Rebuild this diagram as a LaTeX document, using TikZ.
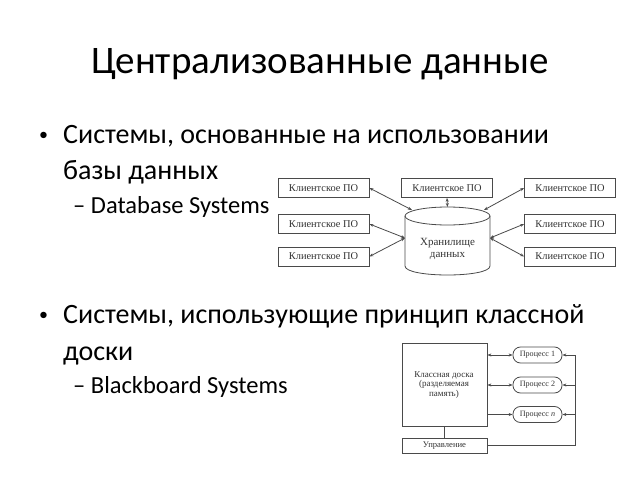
\documentclass[tikz,border=0pt]{standalone}
\usepackage{fontspec}
\setmainfont{Carlito}
\newfontfamily\diagfont{Liberation Serif}
\usetikzlibrary{arrows.meta}
\definecolor{dline}{HTML}{4A4A4A}
\definecolor{dtext}{HTML}{333333}
\begin{document}
\begin{tikzpicture}[x=1pt,y=-1pt,
  slidetext/.style={inner sep=0pt, anchor=base west, text=black},
  bodyfont/.style={font=\fontsize{28}{32}\selectfont},
  subfont/.style={font=\fontsize{24.5}{28}\selectfont},
  cbox/.style={draw=dline, line width=0.8pt, minimum width=91pt, minimum height=19pt, inner sep=0pt, font=\diagfont\fontsize{10.4}{11}\selectfont, text=dtext},
  proc/.style={draw=dline, line width=0.8pt, rounded corners=7.5pt, minimum width=49pt, minimum height=16pt, inner sep=0pt, font=\diagfont\fontsize{8.1}{9}\selectfont, text=dtext},
  conn/.style={draw=dline, line width=0.8pt},
  dbl/.style={conn, {Stealth[length=4pt,width=3pt]}-{Stealth[length=4pt,width=3pt]}},
  sgl/.style={conn, -{Stealth[length=4pt,width=3pt]}}
]
\useasboundingbox (0,0) rectangle (638,479);
\fill[white] (0,0) rectangle (638,479);
% title
\node[inner sep=0pt, anchor=base, font=\fontsize{39}{44}\selectfont] (title) at (320,73) {Централизованные данные};
% bullets
\node[slidetext, font=\fontsize{18}{20}\selectfont] (b1) at (39,140) {•};
\node[slidetext, bodyfont] (t1a) at (63,143) {Системы, основанные на использовании};
\node[slidetext, bodyfont] (t1b) at (63,179) {базы данных};
\node[slidetext, subfont] (s1) at (73,213) {– Database Systems};
\node[slidetext, font=\fontsize{18}{20}\selectfont] (b2) at (39,320) {•};
\node[slidetext, bodyfont] (t2a) at (63,323) {Системы, использующие принцип классной};
\node[slidetext, bodyfont] (t2b) at (63,360) {доски};
\node[slidetext, subfont] (s2) at (73,393) {– Blackboard Systems};

% database diagram
\node[cbox] (lt) at (323.5,188) {Клиентское ПО};
\node[cbox] (lm) at (323.5,224) {Клиентское ПО};
\node[cbox] (lb) at (323.5,256.5) {Клиентское ПО};
\node[cbox] (tm) at (447,188) {Клиентское ПО};
\node[cbox] (rt) at (570,188) {Клиентское ПО};
\node[cbox] (rm) at (570,224) {Клиентское ПО};
\node[cbox] (rb) at (570,256.5) {Клиентское ПО};
% cylinder
\draw[conn] (447.5,216) ellipse [x radius=42.5, y radius=9];
\draw[conn] (405,216) -- (405,266) .. controls (405,278) and (490,278) .. (490,266) -- (490,216);
\node[inner sep=0pt, align=center, font=\diagfont\fontsize{11}{12.5}\selectfont, text=dtext] (db) at (447.5,249) {Хранилище\\данных};
\coordinate (dbtl) at (412,210);
\coordinate (dbtr) at (484,210);
\coordinate (dbt) at (447.5,207);
\coordinate (dbl) at (405,238);
\coordinate (dbr) at (490,238);
\draw[dbl] (lt.east) -- (dbtl);
\draw[dbl] (lm.east) -- (dbl);
\draw[dbl] (lb.east) -- (dbl);
\draw[dbl] (tm.south) -- (dbt);
\draw[dbl] (rt.west) -- (dbtr);
\draw[dbl] (rm.west) -- (dbr);
\draw[dbl] (rb.west) -- (dbr);

% blackboard diagram
\node[draw=dline, line width=0.8pt, minimum width=85pt, minimum height=83pt, inner sep=0pt] (board) at (444.5,384.5) {};
\node[inner sep=0pt, align=center, font=\diagfont\fontsize{9}{9.5}\selectfont, text=dtext] (boardtxt) at (444,385) {Классная доска\\(разделяемая\\память)};
\node[draw=dline, line width=0.8pt, minimum width=85pt, minimum height=15pt, inner sep=0pt, font=\diagfont\fontsize{8.6}{9}\selectfont, text=dtext] (ctrl) at (444.5,445.5) {Управление};
\draw[conn] (board.south) -- (ctrl.north);
\node[proc] (p1) at (537.5,355) {Процесс 1};
\node[proc] (p2) at (537.5,385) {Процесс 2};
\node[proc] (pn) at (537.5,414.5) {Процесс \textit{n}};
\draw[dbl] (board.east |- p1.west) -- (p1.west);
\draw[dbl] (board.east |- p2.west) -- (p2.west);
\draw[sgl] (board.east |- pn.west) -- (pn.west);
\coordinate (fbb) at (575,445.5);
\coordinate (fbt) at (575,355);
\draw[conn] (ctrl.east) -- (fbb) -- (fbt);
\draw[sgl] (fbt) -- (p1.east);
\draw[sgl] (fbt |- p2.east) -- (p2.east);
\draw[sgl] (fbt |- pn.east) -- (pn.east);
\end{tikzpicture}
\end{document}
